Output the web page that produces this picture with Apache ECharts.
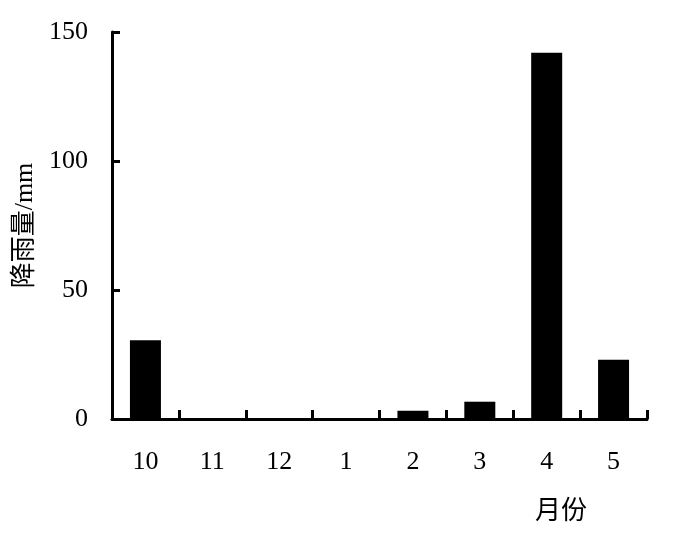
<!DOCTYPE html>
<html>
<head>
<meta charset="utf-8">
<script src="https://cdn.jsdelivr.net/npm/echarts@6/dist/echarts.min.js"></script>
<style>html,body{margin:0;padding:0;background:#fff}#c{width:681px;height:544px}</style>
</head>
<body>
<div id="c"></div>
<script>
var months = ['10', '11', '12', '1', '2', '3', '4', '5'];
var rainfall = [30.5, 0, 0, 0, 3.2, 6.7, 142, 23];
var yTicks = [0, 50, 100, 150];
var yTitle = '降雨量/mm';
var xTitle = '月份';

var serif = '"Liberation Serif", "Noto Sans CJK SC", serif';
var chart = echarts.init(document.getElementById('c'));
chart.setOption({
  animation: false,
  backgroundColor: '#fff',
  grid: { left: 112, top: 32, right: 34, bottom: 125, containLabel: false, outerBoundsMode: 'none' },
  xAxis: {
    type: 'category',
    data: months,
    axisLine: { show: true, lineStyle: { color: '#000', width: 3 } },
    axisTick: { show: true, interval: 0, alignWithLabel: false, inside: true, length: 9, lineStyle: { color: '#000', width: 3 } },
    axisLabel: { color: '#000', fontFamily: serif, fontSize: 26, margin: 30, interval: 0 }
  },
  yAxis: {
    type: 'value',
    min: yTicks[0],
    max: yTicks[yTicks.length - 1],
    interval: 50,
    name: yTitle,
    nameLocation: 'middle',
    nameRotate: 90,
    nameGap: 74,
    nameTextStyle: { color: '#000', fontFamily: serif, fontSize: 26 },
    splitLine: { show: false },
    axisLine: { show: true, lineStyle: { color: '#000', width: 3 } },
    axisTick: { show: true, inside: true, length: 8, lineStyle: { color: '#000', width: 3 } },
    axisLabel: { color: '#000', fontFamily: serif, fontSize: 26, margin: 24 }
  },
  graphic: [{
    type: 'text',
    left: 535,
    top: 499,
    style: { text: xTitle, fill: '#000', font: '26px ' + serif }
  }],
  series: [{
    type: 'bar',
    data: rainfall,
    barWidth: 31,
    itemStyle: { color: '#000' }
  }]
});
</script>
</body>
</html>
